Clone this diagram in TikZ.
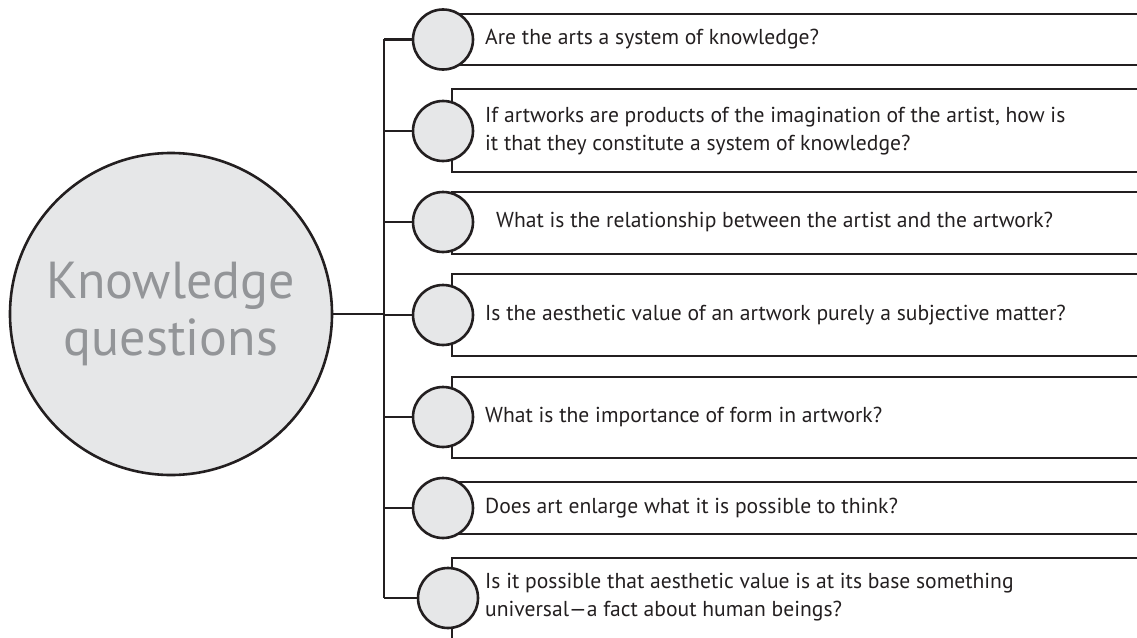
\documentclass[tikz,border=0pt]{standalone}
\usepackage{fontspec}
\setmainfont{PT Sans}
\definecolor{ink}{HTML}{231F20}
\definecolor{disc}{HTML}{E6E7E8}
\definecolor{kqtext}{HTML}{939598}
\begin{document}
\begin{tikzpicture}[x=1pt,y=-1pt,
  line/.style={draw=ink,line width=2.6pt},
  qcircle/.style={circle,draw=ink,line width=2.6pt,fill=disc,minimum size=60pt,inner sep=0pt},
  qbox/.style={draw=ink,line width=2.6pt},
  qtext/.style={anchor=west,text=ink,font=\fontsize{21.6}{28.5}\selectfont,align=left,inner sep=0pt}]
\useasboundingbox (0,0) rectangle (1137,637);
\clip (0,0) rectangle (1137,637);
% central circle
\node[circle,draw=ink,line width=2.6pt,fill=disc,minimum size=322pt,inner sep=0pt,
      text=kqtext,font=\fontsize{52}{57}\selectfont,align=center] (kq) at (171,314) {Knowledge\\questions};
% trunk
\coordinate (tj) at (384,314);
\coordinate (ttop) at (384,39);
\coordinate (tbot) at (384,598);
\draw[line] (kq.east) -- (tj);
\draw[line] (ttop) -- (tbot);
% boxes (open to the right)
\foreach \t/\b in {14/65, 89/172, 192/254, 274/356, 377/458, 482/534, 558/640}{
  \draw[qbox] (1150,\t) -- (452,\t) -- (452,\b) -- (1150,\b);
}
% question circles
\node[qcircle] (c1) at (443,39.5) {};
\node[qcircle] (c2) at (443,131) {};
\node[qcircle] (c3) at (443,222) {};
\node[qcircle] (c4) at (443,315) {};
\node[qcircle] (c5) at (443,417) {};
\node[qcircle] (c6) at (443,508) {};
\node[qcircle] (c7) at (448,598) {};
% branches
\foreach \i in {1,...,7}{
  \draw[line] (ttop |- c\i) -- (c\i.west);
}
% texts
\node[qtext] (q1) at (485,39.5) {Are the arts a system of knowledge?};
\node[qtext] (q2) at (485,131) {If artworks are products of the imagination of the artist, how is\\it that they constitute a system of knowledge?};
\node[qtext] (q3) at (496,222) {What is the relationship between the artist and the artwork?};
\node[qtext] (q4) at (485,315) {Is the aesthetic value of an artwork purely a subjective matter?};
\node[qtext] (q5) at (485,417) {What is the importance of form in artwork?};
\node[qtext] (q6) at (485,508) {Does art enlarge what it is possible to think?};
\node[qtext] (q7) at (485,597) {Is it possible that aesthetic value is at its base something\\universal---a fact about human beings?};
\end{tikzpicture}
\end{document}
